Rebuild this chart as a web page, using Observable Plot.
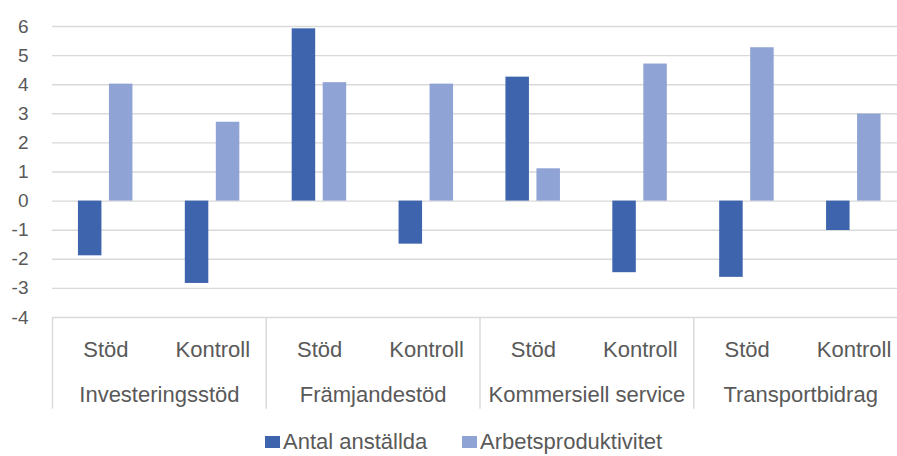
<!DOCTYPE html>
<html>
<head>
<meta charset="utf-8">
<script src="https://cdn.jsdelivr.net/npm/d3@7"></script>
<script src="https://cdn.jsdelivr.net/npm/@observablehq/plot@0.6"></script>
<style>
  html, body { margin: 0; padding: 0; background: #fff; overflow: hidden; }
  #chart { width: 897px; }
  .legend { position: relative; height: 36px; font-family: "Liberation Sans", Arial, sans-serif; font-size: 22px; color: #595959; }
  .legend .item { position: absolute; top: 10px; display: flex; align-items: center; white-space: nowrap; line-height: 24px; }
  .legend .sw { width: 15px; height: 12px; margin-right: 3px; display: inline-block; }
</style>
</head>
<body>
<div id="chart"></div>
<script>
// ---- data ----
const groups = ["Investeringsstöd", "Främjandestöd", "Kommersiell service", "Transportbidrag"];
const subs = ["Stöd", "Kontroll"];
const seriesNames = ["Antal anställda", "Arbetsproduktivitet"];
const antalAnstallda = [-1.88, -2.83, 5.92, -1.48, 4.26, -2.46, -2.62, -1.01];
const arbetsproduktivitet = [4.02, 2.71, 4.07, 4.02, 1.11, 4.71, 5.27, 2.99];
const yTicks = [-4, -3, -2, -1, 0, 1, 2, 3, 4, 5, 6];
const colors = ["#3d64ad", "#8fa3d4"];

// ---- derived table ----
const cats = [];
groups.forEach(g => subs.forEach(s => cats.push({key: g + "|" + s, group: g, sub: s})));
const keys = cats.map(c => c.key);
const rows = [];
cats.forEach((c, i) => {
  rows.push({...c, series: seriesNames[0], value: antalAnstallda[i]});
  rows.push({...c, series: seriesNames[1], value: arbetsproduktivitet[i]});
});

const W = 897, H = 420;
const mL = 52, mR = -10, mT = 26, mB = 103;
const bw = (W - mR - mL) / keys.length;
const ink = "#595959";
const gridC = "#d9d9d9";

const plot = Plot.plot({
  width: W, height: H,
  marginLeft: mL, marginRight: mR, marginTop: mT, marginBottom: mB,
  style: {fontFamily: '"Liberation Sans", Arial, sans-serif', fontSize: "19px", color: ink, background: "#fff", overflow: "visible"},
  x: {type: "band", domain: keys, padding: 0, round: false, axis: null},
  y: {domain: [-4, 6], ticks: yTicks, tickSize: 0, tickPadding: 24, label: null, tickFormat: d => String(d)},
  color: {domain: seriesNames, range: colors},
  marks: [
    Plot.ruleY(yTicks, {stroke: gridC, strokeWidth: 1.4}),
    // category axis separators
    Plot.ruleX(cats.filter(c => c.sub === subs[0]), {x: "key", dx: -bw / 2, y1: -4, y2: -7.15, stroke: gridC, strokeWidth: 1.4}),
    Plot.barY(rows.filter(r => r.series === seriesNames[0]), {
      x: "key", y: "value", fill: "series",
      insetLeft: bw / 2 - 27.5, insetRight: bw / 2 + 4
    }),
    Plot.barY(rows.filter(r => r.series === seriesNames[1]), {
      x: "key", y: "value", fill: "series",
      insetLeft: bw / 2 + 3.5, insetRight: bw / 2 - 27
    }),
    Plot.text(cats, {x: "key", y: -4, text: "sub", dy: 32, fontSize: 22, fill: ink}),
    Plot.text(cats.filter(c => c.sub === subs[0]), {x: "key", y: -4, text: "group", dx: bw / 2, dy: 77, fontSize: 22, fill: ink})
  ]
});
document.getElementById("chart").appendChild(plot);

// legend
const leg = document.createElement("div");
leg.className = "legend";
const lx = [265, 462];
seriesNames.forEach((s, i) => {
  const it = document.createElement("div");
  it.className = "item";
  it.style.left = lx[i] + "px";
  const sw = document.createElement("span");
  sw.className = "sw";
  sw.style.background = colors[i];
  const t = document.createElement("span");
  t.textContent = s;
  it.appendChild(sw); it.appendChild(t);
  leg.appendChild(it);
});
document.getElementById("chart").appendChild(leg);
</script>
</body>
</html>
